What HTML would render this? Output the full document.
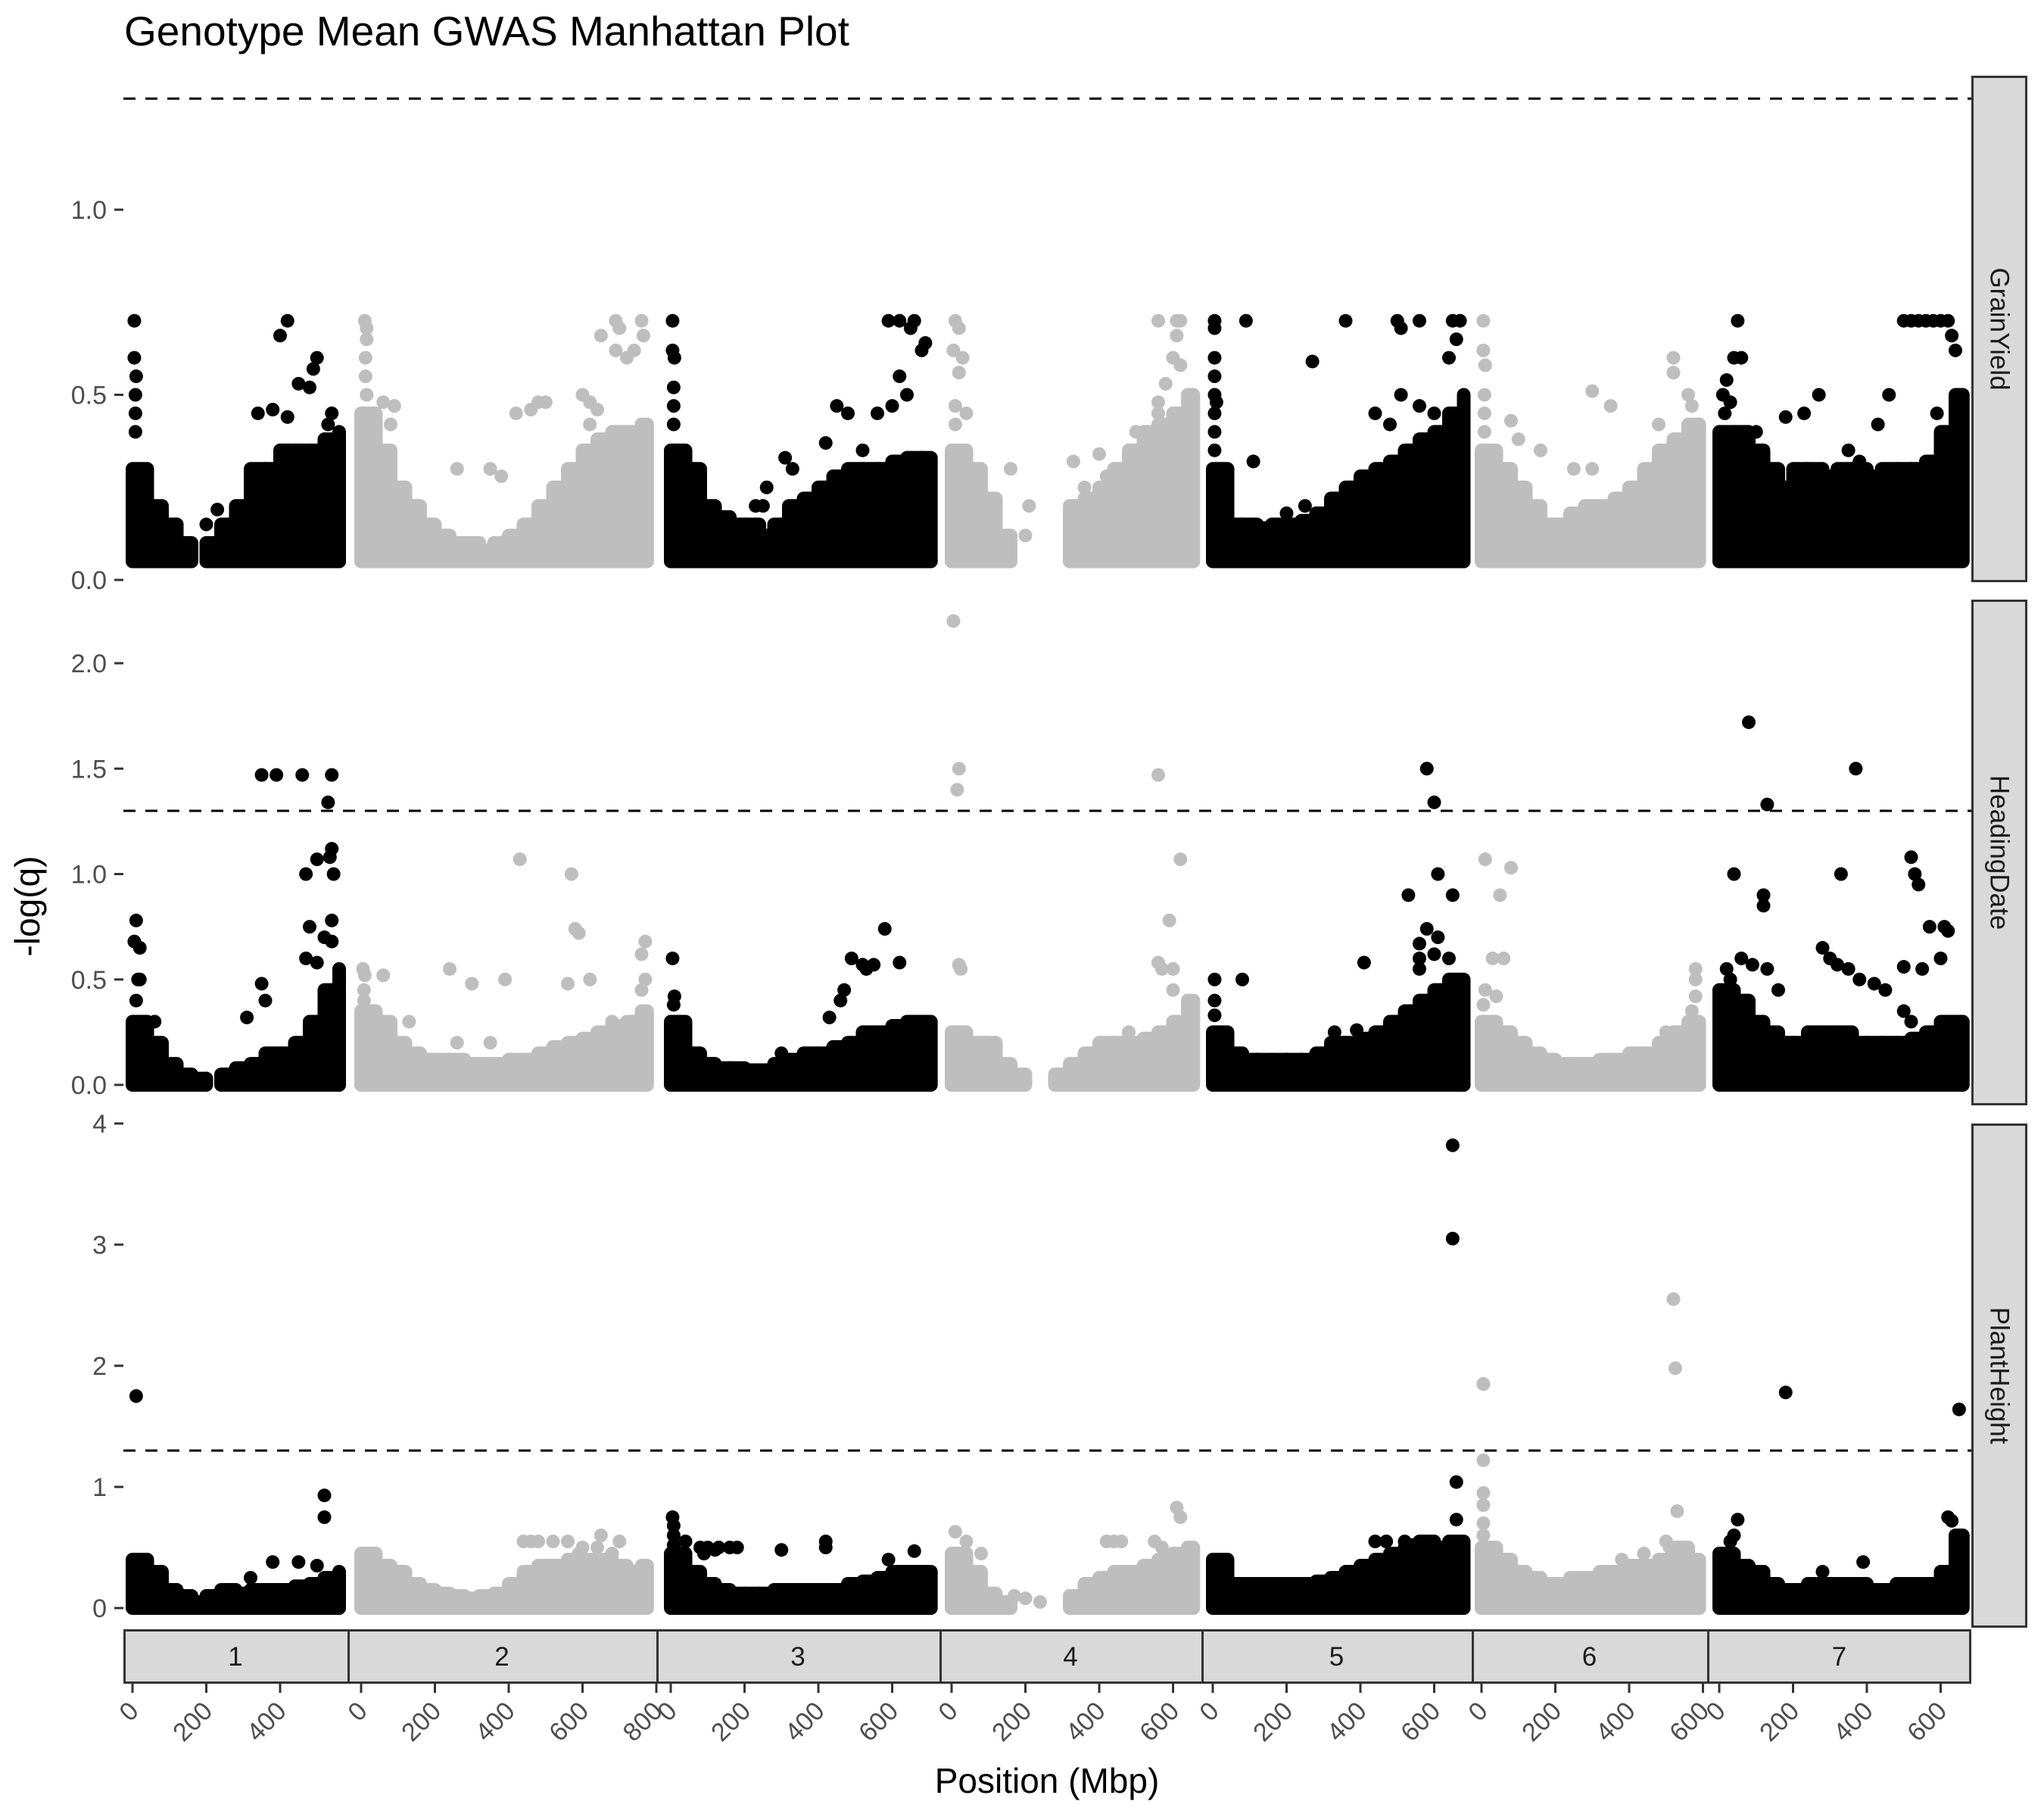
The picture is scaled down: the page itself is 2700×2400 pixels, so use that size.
<!DOCTYPE html>
<html><head><meta charset="utf-8"><style>
html,body{margin:0;padding:0;background:#fff;}
svg{display:block;font-family:"Liberation Sans",Arial,sans-serif;}
</style></head><body>
<svg id="chart" width="2700" height="2400" viewBox="0 0 2700 2400">
<text x="164" y="60" font-size="55" fill="#000">Genotype Mean GWAS Manhattan Plot</text>
<g id="plot"></g>
</svg>
<script>
// ---- data ----
const chromosomes = ["1","2","3","4","5","6","7"];
const chromMax = [560,775,705,655,680,590,660];
const traits = ["GrainYield","HeadingDate","PlantHeight"];
const threshold = 1.3;
const binSize = 40;
const yTicks = [[0,0.5,1.0],[0,0.5,1.0,1.5,2.0],[0,1,2,3,4]];
const yTickLabels = [["0.0","0.5","1.0"],["0.0","0.5","1.0","1.5","2.0"],["0","1","2","3","4"]];
const xTicks = [[0,200,400],[0,200,400,600,800],[0,200,400,600],[0,200,400,600],[0,200,400,600],[0,200,400,600],[0,200,400,600]];
const baseMin = [0.05,0,0];

// envelope of the dense point mass, per 40 Mbp bin
const envGY = [
 [0.3,0.2,0.15,0.1,0,0.1,0.15,0.2,0.3,0.3,0.35,0.35,0.35,0.38,0.4],
 [0.45,0.35,0.25,0.2,0.15,0.12,0.1,0.1,0.08,0.1,0.12,0.15,0.2,0.25,0.3,0.35,0.38,0.4,0.4,0.42],
 [0.35,0.3,0.2,0.17,0.15,0.15,0.12,0.15,0.2,0.22,0.25,0.28,0.3,0.3,0.3,0.32,0.33,0.33],
 [0.35,0.3,0.22,0.12,0,0,0,0,0.2,0.22,0.25,0.3,0.35,0.4,0.42,0.45,0.5],
 [0.3,0.15,0.15,0.14,0.15,0.15,0.16,0.18,0.22,0.25,0.28,0.3,0.32,0.35,0.38,0.4,0.45,0.5],
 [0.35,0.3,0.25,0.2,0.15,0.15,0.18,0.2,0.2,0.22,0.25,0.3,0.35,0.38,0.42],
 [0.4,0.4,0.35,0.3,0.25,0.3,0.3,0.28,0.3,0.3,0.28,0.3,0.3,0.3,0.32,0.4,0.5]
];
const envHD = [
 [0.3,0.2,0.1,0.05,0.03,0,0.05,0.08,0.1,0.15,0.15,0.2,0.3,0.45,0.55],
 [0.35,0.3,0.2,0.15,0.12,0.12,0.12,0.1,0.1,0.1,0.12,0.12,0.15,0.18,0.2,0.22,0.25,0.28,0.3,0.35],
 [0.3,0.15,0.1,0.08,0.08,0.07,0.07,0.1,0.12,0.15,0.15,0.18,0.2,0.25,0.25,0.28,0.3,0.3],
 [0.25,0.2,0.2,0.1,0.05,0,0,0.05,0.1,0.15,0.2,0.2,0.2,0.22,0.25,0.3,0.4],
 [0.25,0.15,0.12,0.12,0.12,0.12,0.12,0.15,0.2,0.2,0.22,0.25,0.3,0.35,0.4,0.45,0.5,0.45],
 [0.3,0.25,0.2,0.15,0.12,0.1,0.1,0.1,0.12,0.12,0.15,0.15,0.2,0.25,0.3],
 [0.45,0.4,0.3,0.25,0.2,0.2,0.25,0.25,0.25,0.2,0.2,0.2,0.2,0.22,0.25,0.3,0.3]
];
const envPH = [
 [0.4,0.3,0.15,0.1,0.05,0.1,0.15,0.12,0.15,0.15,0.15,0.18,0.2,0.25,0.3],
 [0.45,0.35,0.3,0.2,0.15,0.12,0.1,0.08,0.1,0.12,0.2,0.3,0.35,0.35,0.4,0.4,0.4,0.35,0.3,0.35],
 [0.45,0.3,0.2,0.15,0.12,0.12,0.12,0.15,0.15,0.15,0.15,0.15,0.2,0.22,0.25,0.3,0.3,0.3],
 [0.45,0.3,0.12,0.05,0,0,0,0,0.1,0.2,0.25,0.3,0.3,0.35,0.4,0.45,0.5],
 [0.4,0.2,0.2,0.2,0.2,0.2,0.2,0.22,0.25,0.3,0.35,0.4,0.45,0.5,0.55,0.5,0.55,0.5],
 [0.5,0.4,0.3,0.25,0.2,0.2,0.25,0.25,0.3,0.3,0.35,0.35,0.4,0.5,0.4],
 [0.45,0.35,0.3,0.2,0.15,0.15,0.2,0.2,0.2,0.2,0.15,0.15,0.2,0.2,0.2,0.3,0.6]
];
// individual points [position Mbp, -log(q)]
const ptsGY = [
 [[5,0.70],[5,0.60],[10,0.55],[8,0.5],[8,0.45],[8,0.4],[420,0.70],[400,0.66],[500,0.60],[490,0.57],[450,0.53],[480,0.52],[380,0.46],[340,0.45],[420,0.44],[540,0.45],[530,0.42],[150,0.07],[120,0.15],[230,0.19],[200,0.15]],
 [[10,0.70],[15,0.68],[15,0.65],[12,0.6],[12,0.55],[15,0.5],[60,0.48],[90,0.47],[80,0.42],[420,0.45],[460,0.46],[480,0.48],[500,0.48],[600,0.5],[620,0.48],[640,0.46],[650,0.66],[690,0.7],[700,0.68],[760,0.7],[765,0.66],[690,0.62],[720,0.6],[740,0.62],[350,0.3],[260,0.3],[380,0.28],[620,0.42]],
 [[5,0.70],[5,0.62],[10,0.6],[8,0.52],[8,0.47],[8,0.42],[590,0.70],[620,0.70],[660,0.70],[650,0.68],[690,0.64],[680,0.62],[620,0.55],[640,0.5],[600,0.47],[560,0.45],[450,0.47],[480,0.45],[310,0.33],[330,0.3],[260,0.25],[230,0.2],[250,0.2],[420,0.37],[520,0.35]],
 [[10,0.70],[20,0.68],[5,0.62],[30,0.6],[20,0.56],[10,0.47],[40,0.45],[10,0.42],[100,0.1],[160,0.3],[210,0.2],[200,0.12],[330,0.32],[360,0.25],[400,0.34],[420,0.28],[500,0.4],[540,0.38],[560,0.45],[560,0.48],[580,0.53],[600,0.6],[620,0.58],[610,0.66],[610,0.7],[560,0.7],[620,0.7]],
 [[5,0.70],[5,0.68],[5,0.6],[5,0.55],[5,0.5],[5,0.45],[5,0.4],[5,0.35],[90,0.7],[10,0.48],[110,0.32],[270,0.59],[360,0.7],[500,0.7],[560,0.7],[510,0.68],[650,0.7],[670,0.7],[660,0.65],[640,0.6],[440,0.45],[480,0.42],[510,0.5],[560,0.47],[600,0.45],[200,0.18],[250,0.2],[290,0.15]],
 [[5,0.70],[5,0.62],[10,0.58],[8,0.5],[8,0.45],[8,0.4],[80,0.43],[100,0.38],[160,0.35],[300,0.51],[350,0.47],[250,0.3],[300,0.3],[520,0.6],[520,0.56],[480,0.42],[560,0.5],[570,0.47]],
 [[50,0.70],[40,0.6],[60,0.6],[20,0.54],[10,0.5],[30,0.48],[15,0.45],[100,0.4],[270,0.5],[460,0.5],[500,0.7],[520,0.7],[540,0.7],[560,0.7],[580,0.7],[600,0.7],[620,0.7],[630,0.66],[640,0.62],[230,0.45],[180,0.44],[430,0.42],[590,0.45],[350,0.35],[380,0.32]]
];
const ptsHD = [
 [[10,0.78],[5,0.68],[20,0.65],[15,0.5],[20,0.5],[10,0.4],[350,1.47],[390,1.47],[460,1.47],[540,1.47],[530,1.34],[540,1.12],[535,1.08],[545,1.0],[500,1.07],[470,1.0],[540,0.78],[480,0.75],[520,0.7],[470,0.6],[500,0.58],[540,0.68],[350,0.48],[360,0.4],[310,0.32],[60,0.3],[50,0.15],[160,0.03],[200,0.03],[240,0.03]],
 [[5,0.55],[10,0.52],[60,0.52],[8,0.45],[8,0.4],[130,0.3],[240,0.55],[300,0.48],[390,0.5],[430,1.07],[570,1.0],[580,0.74],[590,0.72],[560,0.48],[620,0.5],[680,0.3],[770,0.68],[760,0.62],[770,0.5],[760,0.45],[260,0.2],[350,0.2]],
 [[5,0.6],[10,0.42],[8,0.38],[490,0.6],[520,0.57],[530,0.55],[550,0.57],[580,0.74],[620,0.58],[470,0.45],[460,0.4],[430,0.32],[30,0.2],[400,0.15],[300,0.15]],
 [[5,2.2],[20,1.5],[15,1.4],[20,0.57],[25,0.55],[90,0.2],[140,0.03],[200,0.03],[560,1.47],[620,1.07],[590,0.78],[560,0.58],[570,0.55],[600,0.55],[600,0.45],[480,0.25]],
 [[5,0.5],[80,0.5],[5,0.4],[5,0.33],[410,0.58],[330,0.25],[390,0.26],[530,0.9],[580,1.5],[600,1.34],[610,1.0],[650,0.9],[580,0.74],[610,0.7],[560,0.67],[600,0.62],[560,0.6],[640,0.6],[560,0.55],[630,0.45]],
 [[10,1.07],[50,0.9],[80,1.03],[30,0.6],[60,0.6],[10,0.45],[40,0.42],[5,0.38],[580,0.55],[580,0.5],[580,0.42],[570,0.35],[500,0.25]],
 [[80,1.72],[130,1.33],[370,1.5],[40,1.0],[120,0.9],[120,0.85],[330,1.0],[520,1.08],[530,1.0],[540,0.95],[280,0.65],[300,0.6],[320,0.57],[350,0.55],[380,0.5],[420,0.48],[450,0.45],[500,0.56],[550,0.55],[570,0.75],[610,0.75],[620,0.73],[600,0.6],[60,0.6],[90,0.57],[130,0.55],[160,0.45],[500,0.35],[520,0.3],[20,0.55],[30,0.5]]
];
const ptsPH = [
 [[10,1.75],[520,0.93],[520,0.75],[500,0.35],[450,0.38],[380,0.38],[320,0.25]],
 [[440,0.55],[460,0.55],[480,0.55],[520,0.55],[560,0.55],[600,0.5],[650,0.6],[700,0.55],[590,0.45],[640,0.5],[680,0.45]],
 [[5,0.75],[8,0.68],[8,0.6],[8,0.52],[40,0.55],[80,0.5],[90,0.45],[100,0.5],[120,0.48],[130,0.5],[160,0.5],[180,0.5],[300,0.48],[420,0.55],[420,0.5],[660,0.47],[590,0.4]],
 [[10,0.63],[40,0.55],[80,0.45],[170,0.1],[200,0.08],[240,0.05],[420,0.55],[440,0.55],[460,0.55],[550,0.55],[570,0.5],[610,0.83],[620,0.75]],
 [[650,3.82],[650,3.05],[660,1.04],[660,0.73],[460,0.4],[440,0.55],[470,0.55],[520,0.55],[540,0.52],[600,0.5]],
 [[5,1.85],[5,1.22],[5,0.95],[5,0.85],[5,0.7],[5,0.6],[520,2.55],[525,1.98],[530,0.8],[500,0.55],[510,0.5],[440,0.45],[380,0.4],[100,0.3]],
 [[180,1.78],[650,1.64],[620,0.75],[630,0.72],[50,0.73],[40,0.6],[30,0.55],[390,0.38],[280,0.3],[120,0.3]]
];
const envs = [envGY, envHD, envPH];
const pts = [ptsGY, ptsHD, ptsPH];

// ---- layout ----
const facetLeft = [163,459,867,1241,1587,1944,2255];
const facetRightEnd = 2604;
const zeroX = [175,477,886,1257,1602,1957,2271];
const pxPerMbp = 0.4875;
const panelTop = [100,792,1484], panelBottom = [769,1460,2150];
const yZero = [766,1433,2124], pxPerUnit = [489,278.5,160];
const R = 9;
const NS = "http://www.w3.org/2000/svg";
const plot = document.getElementById('plot');
function mk(tag, attrs, parent){const e=document.createElementNS(NS,tag);for(const k in attrs)e.setAttribute(k,attrs[k]);(parent||plot).appendChild(e);return e;}
function xScale(c, pos){return zeroX[c] + pos*pxPerMbp;}
function yScale(p, v){return yZero[p] - v*pxPerUnit[p];}
function facetRight(c){return c<6?facetLeft[c+1]:facetRightEnd;}

for(let p=0;p<3;p++){
  const g = mk('g',{});
  
  
  for(let c=0;c<7;c++){
    const col = c%2===0 ? '#000000' : '#bebebe';
    const cg = mk('g',{fill:col}, g);
    
    
    const env = envs[p][c];
    for(let i=0;i<env.length;i++){
      if(env[i]<=0) continue;
      const s = i*binSize, e = Math.min((i+1)*binSize, chromMax[c]);
      const x1 = xScale(c,s)-R, x2 = xScale(c,e)+R;
      const yTop = yScale(p, Math.max(env[i], baseMin[p]))-R, yBot = yScale(p, baseMin[p])+R;
      const r = mk('rect',{x:x1,y:yTop,width:x2-x1,height:yBot-yTop,rx:R,ry:R}, cg);
      
      
    }
    for(const [pos,v] of pts[p][c]){
      const ci = mk('circle',{cx:xScale(c,pos),cy:yScale(p,v),r:R}, cg);
      
      
    }
  }
  const ty = yScale(p, threshold);
  const tl = mk('line',{x1:facetLeft[0],x2:facetRightEnd,y1:ty,y2:ty,stroke:'#000','stroke-width':3,'stroke-dasharray':'16 13'}, g);
  
  
  yTicks[p].forEach((t,i)=>{
    const y = yScale(p,t);
    const tk = mk('line',{x1:151,x2:163,y1:y,y2:y,stroke:'#333','stroke-width':3}, g);
    
    
    const tx = mk('text',{x:141,y:y+12,'text-anchor':'end','font-size':34,fill:'#4d4d4d'}, g);
    tx.textContent = yTickLabels[p][i];
    
    
  });
  const sr = mk('rect',{x:2605.5,y:panelTop[p]+1.5,width:71,height:panelBottom[p]-panelTop[p]-3,fill:'#d9d9d9',stroke:'#333','stroke-width':3}, g);
  
  
  const cy = (panelTop[p]+panelBottom[p])/2;
  const st = mk('text',{x:2641,y:cy,'text-anchor':'middle','dominant-baseline':'central','font-size':35,fill:'#1a1a1a',transform:'rotate(90 2641 '+cy+')'}, g);
  st.textContent = traits[p];
  
  
}
for(let c=0;c<7;c++){
  const x1 = facetLeft[c], x2 = facetRight(c);
  const r = mk('rect',{x:x1+1.5,y:2153.5,width:x2-x1-3+ (c<6?3:0),height:69,fill:'#d9d9d9',stroke:'#333','stroke-width':3});
  
  
  const t = mk('text',{x:(x1+x2)/2,y:2200,'text-anchor':'middle','font-size':35,fill:'#1a1a1a'});
  t.textContent = chromosomes[c];
  
  
  xTicks[c].forEach(v=>{
    const x = xScale(c,v);
    const tk = mk('line',{x1:x,x2:x,y1:2224,y2:2236,stroke:'#333','stroke-width':3});
    
    
    const tx = mk('text',{x:x+10,y:2262,'text-anchor':'end','font-size':34,fill:'#4d4d4d',transform:'rotate(-45 '+(x+10)+' 2262)'});
    tx.textContent = String(v);
    
    
  });
}
const xt = mk('text',{x:1383,y:2368,'text-anchor':'middle','font-size':46,fill:'#000'});
xt.textContent = 'Position (Mbp)';


const yt = mk('text',{x:52,y:1197,'text-anchor':'middle','font-size':46,fill:'#000',transform:'rotate(-90 52 1197)'});
yt.textContent = '-log(q)';


</script>
</body></html>
